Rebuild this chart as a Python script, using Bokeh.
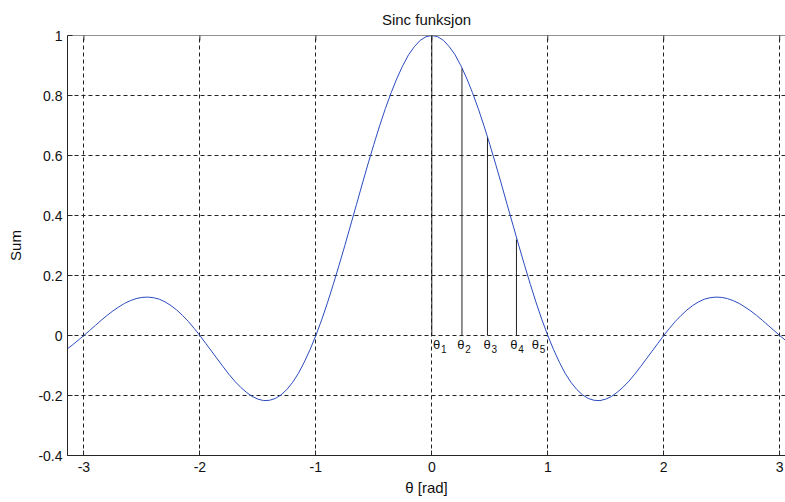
from bokeh.plotting import figure
from bokeh.models import Range1d, FixedTicker, Span, Title, ColumnDataSource
from bokeh.core.properties import value
from bokeh.embed import file_html
from bokeh.resources import INLINE
import math

# Curve values (x in rad, y = sum)
x_vals = [-3.1416, -3.10, -3.05, -3.00, -2.95, -2.90, -2.85, -2.80, -2.75, -2.70, -2.65,
          -2.60, -2.55, -2.50, -2.45, -2.40, -2.35, -2.30, -2.25, -2.20, -2.15,
          -2.10, -2.05, -2.00, -1.95, -1.90, -1.85, -1.80, -1.75, -1.70, -1.65,
          -1.60, -1.55, -1.50, -1.45, -1.40, -1.35, -1.30, -1.25, -1.20, -1.15,
          -1.10, -1.05, -1.00, -0.95, -0.90, -0.85, -0.80, -0.75, -0.70, -0.65,
          -0.60, -0.55, -0.50, -0.45, -0.40, -0.35, -0.30, -0.25, -0.20, -0.15,
          -0.10, -0.05, 0.00, 0.05, 0.10, 0.15, 0.20, 0.25, 0.30, 0.35,
          0.40, 0.45, 0.50, 0.55, 0.60, 0.65, 0.70, 0.75, 0.80, 0.85,
          0.90, 0.95, 1.00, 1.05, 1.10, 1.15, 1.20, 1.25, 1.30, 1.35,
          1.40, 1.45, 1.50, 1.55, 1.60, 1.65, 1.70, 1.75, 1.80, 1.85,
          1.90, 1.95, 2.00, 2.05, 2.10, 2.15, 2.20, 2.25, 2.30, 2.35,
          2.40, 2.45, 2.50, 2.55, 2.60, 2.65, 2.70, 2.75, 2.80, 2.85,
          2.90, 2.95, 3.00, 3.05, 3.10, 3.1416]
y_vals = [-0.044, -0.032, -0.016, 0.000, 0.017, 0.034, 0.051, 0.067, 0.082, 0.095, 0.107,
          0.116, 0.123, 0.127, 0.128, 0.126, 0.121, 0.112, 0.100, 0.085, 0.067,
          0.047, 0.024, 0.000, -0.026, -0.052, -0.078, -0.104, -0.129, -0.152, -0.172,
          -0.189, -0.203, -0.212, -0.217, -0.216, -0.210, -0.198, -0.180, -0.156, -0.126,
          -0.089, -0.047, 0.000, 0.052, 0.109, 0.170, 0.234, 0.300, 0.368, 0.436,
          0.505, 0.572, 0.637, 0.699, 0.757, 0.810, 0.858, 0.900, 0.936, 0.963,
          0.984, 0.996, 1.000, 0.996, 0.984, 0.963, 0.936, 0.900, 0.858, 0.810,
          0.757, 0.699, 0.637, 0.572, 0.505, 0.436, 0.368, 0.300, 0.234, 0.170,
          0.109, 0.052, 0.000, -0.047, -0.089, -0.126, -0.156, -0.180, -0.198, -0.210,
          -0.216, -0.217, -0.212, -0.203, -0.189, -0.172, -0.152, -0.129, -0.104, -0.078,
          -0.052, -0.026, 0.000, 0.024, 0.047, 0.067, 0.085, 0.100, 0.112, 0.121,
          0.126, 0.128, 0.127, 0.123, 0.116, 0.107, 0.095, 0.082, 0.067, 0.051,
          0.034, 0.017, 0.000, -0.016, -0.032, -0.044]

# Stems at the sample angles
stem_x = [0.0, 0.26, 0.48, 0.73]
stem_y = [1.0, 0.89, 0.66, 0.32]

# Theta labels
theta_x = [0.01, 0.22, 0.445, 0.677, 0.862]
theta_sub = ["1", "2", "3", "4", "5"]

x_ticks = [-3, -2, -1, 0, 1, 2, 3]
x_tick_labels = ["-3", "-2", "-1", "0", "1", "2", "3"]
y_ticks = [-0.4, -0.2, 0.0, 0.2, 0.4, 0.6, 0.8, 1.0]
y_tick_labels = ["-0.4", "-0.2", "0", "0.2", "0.4", "0.6", "0.8", "1"]

title_text = "Sinc funksjon"
x_label = "θ [rad]"
y_label = "Sum"

FONT = "Liberation Sans"
AX = "#262626"
TXT = "#111111"

y_lo, y_hi = -0.4, 1.0
p = figure(width=785, height=502, output_backend="svg", toolbar_location=None,
           x_range=Range1d(-3.1416, 3.05), y_range=Range1d(y_lo, y_hi),
           min_border_left=67, min_border_right=0, min_border_top=35, min_border_bottom=47,
           x_axis_label=x_label, y_axis_label=y_label)
p.outline_line_color = None
p.background_fill_color = "white"
p.border_fill_color = "white"

for ax in (p.xaxis[0], p.yaxis[0]):
    ax.axis_line_color = AX
    ax.major_tick_line_color = AX
    ax.major_tick_in = 5
    ax.major_tick_out = 0
    ax.minor_tick_line_color = None
    ax.major_label_text_font = FONT
    ax.major_label_text_font_size = "14px"
    ax.major_label_text_color = TXT
    ax.axis_label_text_font = FONT
    ax.axis_label_text_font_size = "15px"
    ax.axis_label_text_font_style = "normal"
    ax.axis_label_text_color = TXT

p.xaxis.ticker = FixedTicker(ticks=x_ticks)
p.xaxis.major_label_overrides = {t: l for t, l in zip(x_ticks, x_tick_labels)}
p.yaxis.ticker = FixedTicker(ticks=y_ticks)
p.yaxis.major_label_overrides = {t: l for t, l in zip(y_ticks, y_tick_labels)}
p.xaxis.major_label_standoff = 6
p.xaxis.axis_label_standoff = 4
p.yaxis.major_label_standoff = 5
p.yaxis.axis_label_standoff = 11

# top frame line with inward ticks
p.add_layout(Span(location=y_hi, dimension="width", line_color=AX, line_width=1))
p.scatter(x=x_ticks, y=[y_hi] * len(x_ticks), marker="dash", size=10,
          angle=math.pi / 2, line_color=AX, line_width=1)

# title
p.add_layout(Title(text=title_text, align="center", text_font=FONT,
                   text_font_size="15px", text_font_style="normal",
                   text_color=TXT, offset=4, standoff=16), "above")

p.xgrid.ticker = FixedTicker(ticks=x_ticks)
p.ygrid.ticker = FixedTicker(ticks=y_ticks)
for g in (p.xgrid[0], p.ygrid[0]):
    g.grid_line_color = "#222222"
    g.grid_line_dash = "4 3"
    g.grid_line_width = 1

curve = ColumnDataSource(dict(x=x_vals, y=y_vals))
p.line("x", "y", source=curve, line_color="#2b4bbf", line_width=1)

stems = ColumnDataSource(dict(x=stem_x, y0=[0] * len(stem_x), y1=stem_y))
p.segment(x0="x", y0="y0", x1="x", y1="y1", source=stems, line_color="#222222", line_width=1)

lab = ColumnDataSource(dict(x=theta_x, y=[0] * len(theta_x),
                            t=["θ"] * len(theta_x), s=theta_sub))
p.text(x="x", y="y", text="t", source=lab, text_font=value(FONT), text_font_size="13px",
       text_baseline="top", text_align="left", y_offset=1, text_color=TXT)
p.text(x="x", y="y", text="s", source=lab, text_font=value(FONT), text_font_size="10px",
       text_baseline="top", text_align="left", x_offset=8, y_offset=9, text_color=TXT)

open("out.html", "w").write(file_html(p, INLINE))
